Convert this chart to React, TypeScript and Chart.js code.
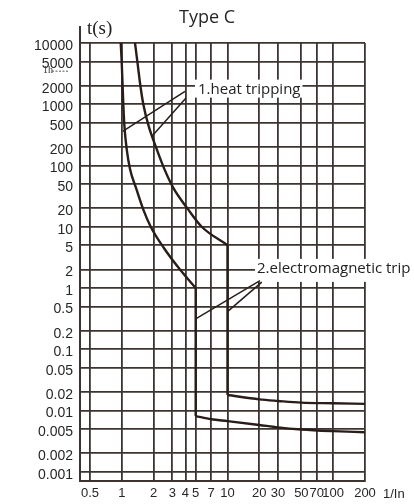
import React, { useEffect, useRef } from 'react';
import { Chart, registerables } from 'chart.js';

Chart.register(...registerables);

// ---- axes ----
const xTickValues = [0.5, 1, 2, 3, 4, 5, 7, 10, 20, 30, 50, 70, 100, 200];
const xTickLabels = ['0.5', '1', '2', '3', '4', '5', '7', '10', '20', '30', '50', '70', '100', '200'];
const yTickValues = [0.001, 0.002, 0.005, 0.01, 0.02, 0.05, 0.1, 0.2, 0.5, 1, 2, 5, 10, 20, 50, 100, 200, 500, 1000, 2000, 5000, 10000];
const yTickLabels = ['0.001', '0.002', '0.005', '0.01', '0.02', '0.05', '0.1', '0.2', '0.5', '1', '2', '5', '10', '20', '50', '100', '200', '500', '1000', '2000', '5000', '10000'];

// ---- curve 1: lower heat curve + its electromagnetic part ----
const heatLowI = [0.976, 0.997, 1.019, 1.033, 1.056, 1.112, 1.195, 1.362, 1.597, 1.876, 2.5, 3.552, 5];
const heatLowT = [10000, 5000, 1840, 1000, 460, 185, 88, 43, 19, 10, 4.5, 2.0, 1.0];
const dropLowI = [5, 5];
const dropLowT = [1.0, 0.0081];
const magLowI = [5, 7, 10, 20, 30, 50, 100, 200];
const magLowT = [0.0081, 0.0072, 0.0067, 0.0058, 0.0053, 0.0049, 0.0046, 0.0044];

// ---- curve 2: upper heat curve + its electromagnetic part ----
const heatHighI = [1.333, 1.402, 1.509, 1.597, 1.781, 2.138, 2.523, 3.07, 4.26, 5.7, 10];
const heatHighT = [10000, 5000, 1840, 1000, 460, 185, 88, 43, 19, 10, 5];
const dropHighI = [10, 10];
const dropHighT = [5, 0.0179];
const magHighI = [10, 20, 30, 50, 100, 200];
const magHighT = [0.0179, 0.0152, 0.0143, 0.0134, 0.0131, 0.0128];

// ---- annotation leaders (I, t) ----
const heatLeader1I = [3.96, 1.019];
const heatLeader1T = [1618, 359];
const heatLeader2I = [4.05, 1.917];
const heatLeader2T = [1262, 298];
const magLeader1I = [20.3, 5];
const magLeader1T = [1.32, 0.313];
const magLeader2I = [21.1, 10];
const magLeader2T = [1.245, 0.411];

const heatLabel = { text: '1.heat tripping', x: 5.26, y: 1800 };
const magLabel = { text: '2.electromagnetic trip', x: 19, y: 2.05 };
const oneHourT = 3600;

const titleText = 'Type C';
const yTitle = 't(s)';
const xTitle = '1/In';

const GRID = '#3d3431';
const CURVE = '#281d19';
const TEXT = '#262626';

const pts = (xs: number[], ys: number[]) => xs.map((v, i) => ({ x: v, y: ys[i] }));

export default function App() {
  const ref = useRef<HTMLCanvasElement | null>(null);

  useEffect(() => {
    if (!ref.current) return;

    const labelPlugin = {
      id: 'labels',
      beforeDatasetsDraw(chart: any) {
        const { ctx, scales } = chart;
        const x = scales.x, y = scales.y;
        ctx.save();
        ctx.font = '15px "Open Sans"';
        ctx.fillStyle = '#ffffff';
        {
          const px = x.getPixelForValue(heatLabel.x);
          const py = y.getPixelForValue(heatLabel.y);
          const w = ctx.measureText(heatLabel.text).width;
          ctx.fillRect(px - 3, py - 9, w + 5, 18);
        }
        {
          const px = x.getPixelForValue(magLabel.x);
          const py = y.getPixelForValue(magLabel.y);
          const w = ctx.measureText(magLabel.text).width;
          ctx.fillRect(px - 2, py - 10, w + 8, 23);
        }
        ctx.restore();
      },
      afterDraw(chart: any) {
        const { ctx, scales, chartArea } = chart;
        const x = scales.x, y = scales.y;
        ctx.save();
        ctx.fillStyle = '#222';
        ctx.textBaseline = 'middle';
        ctx.textAlign = 'left';
        ctx.font = '15px "Open Sans"';
        ctx.fillText(heatLabel.text, x.getPixelForValue(heatLabel.x), y.getPixelForValue(heatLabel.y) + 1);
        ctx.fillText(magLabel.text, x.getPixelForValue(magLabel.x), y.getPixelForValue(magLabel.y));

        // title
        ctx.textAlign = 'center';
        ctx.font = '18px "Open Sans"';
        ctx.fillStyle = TEXT;
        ctx.fillText(titleText, chart.width / 2, 18);

        // y-axis title and axis extension
        ctx.textAlign = 'left';
        ctx.font = '19px "Liberation Serif"';
        ctx.fillStyle = '#222';
        ctx.fillText(yTitle, chartArea.left + 7, 29);
        ctx.strokeStyle = GRID;
        ctx.lineWidth = 2;
        ctx.beginPath();
        ctx.moveTo(chartArea.left, chartArea.top);
        ctx.lineTo(chartArea.left, 26);
        ctx.stroke();

        // x-axis unit
        ctx.font = '13px "Liberation Sans"';
        ctx.fillStyle = TEXT;
        ctx.fillText(xTitle, chartArea.right + 18, chartArea.bottom + 13);

        // 1h marker
        const hy = y.getPixelForValue(oneHourT);
        ctx.font = '10px "Liberation Serif"';
        ctx.fillStyle = '#333';
        ctx.fillText('1h', chartArea.left - 37, hy);
        ctx.setLineDash([2, 1.5]);
        ctx.lineWidth = 0.9;
        ctx.strokeStyle = '#444';
        ctx.beginPath();
        ctx.moveTo(chartArea.left - 28, hy + 1);
        ctx.lineTo(chartArea.left - 11, hy + 1);
        ctx.stroke();
        ctx.restore();
      },
    };

    const curve = (xs: number[], ys: number[], smooth: boolean) => ({
      data: pts(xs, ys),
      showLine: true,
      borderColor: CURVE,
      borderWidth: 2.4,
      pointRadius: 0,
      tension: 0,
      cubicInterpolationMode: smooth ? 'monotone' : 'default',
    });
    const leader = (xs: number[], ys: number[]) => ({
      data: pts(xs, ys),
      showLine: true,
      borderColor: CURVE,
      borderWidth: 1.5,
      pointRadius: 0,
      tension: 0,
    });

    const chart = new Chart(ref.current, {
      type: 'scatter',
      data: {
        datasets: [
          curve(heatLowI, heatLowT, true),
          curve(dropLowI, dropLowT, false),
          curve(magLowI, magLowT, true),
          curve(heatHighI, heatHighT, true),
          curve(dropHighI, dropHighT, false),
          curve(magHighI, magHighT, true),
          leader(heatLeader1I, heatLeader1T),
          leader(heatLeader2I, heatLeader2T),
          leader(magLeader1I, magLeader1T),
          leader(magLeader2I, magLeader2T),
        ] as any,
      },
      options: {
        responsive: false,
        animation: false,
        events: [],
        layout: { padding: { left: 0, right: 49, top: 43, bottom: 0 } },
        plugins: { legend: { display: false }, tooltip: { enabled: false }, title: { display: false } },
        scales: {
          x: {
            type: 'logarithmic',
            min: 0.402,
            max: 200,
            afterBuildTicks: (s: any) => {
              s.ticks = xTickValues.map((v) => ({ value: v }));
            },
            afterFit: (s: any) => {
              s.height = 23;
            },
            grid: { color: GRID, lineWidth: 1.8, drawTicks: false },
            border: { color: GRID, width: 2 },
            ticks: {
              autoSkip: false,
              maxRotation: 0,
              minRotation: 0,
              padding: 5,
              color: TEXT,
              font: { family: '"Liberation Sans"', size: 13 },
              callback: (v: any) => xTickLabels[xTickValues.indexOf(Number(v))] ?? '',
            },
          },
          y: {
            type: 'logarithmic',
            min: 0.000705,
            max: 10000,
            afterBuildTicks: (s: any) => {
              s.ticks = yTickValues.map((v) => ({ value: v }));
            },
            afterFit: (s: any) => {
              s.width = 80;
            },
            grid: { color: GRID, lineWidth: 1.8, drawTicks: false },
            border: { color: GRID, width: 2 },
            ticks: {
              autoSkip: false,
              padding: 7,
              labelOffset: 3,
              color: TEXT,
              font: { family: '"Liberation Sans"', size: 14 },
              callback: (v: any) => yTickLabels[yTickValues.indexOf(Number(v))] ?? '',
            },
          },
        },
      } as any,
      plugins: [labelPlugin],
    });

    return () => chart.destroy();
  }, []);

  return (
    <div style={{ position: 'absolute', left: 0, top: 0, width: 414, height: 504, background: '#fff' }}>
      <canvas ref={ref} width={414} height={504} style={{ display: 'block' }} />
    </div>
  );
}
